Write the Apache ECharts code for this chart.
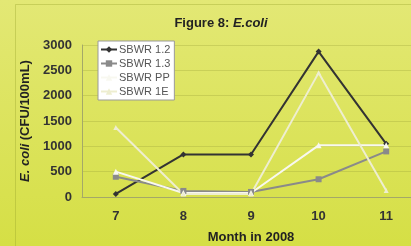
<!DOCTYPE html>
<html>
<head>
<meta charset="utf-8">
<script src="https://cdn.jsdelivr.net/npm/echarts@6/dist/echarts.min.js"></script>
<style>
  html, body { margin: 0; padding: 0; }
  #chart { width: 411px; height: 246px; }
</style>
</head>
<body>
<div id="chart"></div>
<script>
// 数据
var months = ["7", "8", "9", "10", "11"];
var sbwr12 = [60, 840, 840, 2870, 1050];
var sbwr13 = [400, 120, 100, 350, 900];
var sbwrPP = [500, 80, 80, 1020, 1020];
var sbwr1E = [1370, 60, 60, 2450, 130];
var yTicks = [0, 500, 1000, 1500, 2000, 2500, 3000];

var chart = echarts.init(document.getElementById("chart"));

function line(name, data, color, symbol, size) {
  return {
    name: name,
    type: "line",
    data: data,
    symbol: symbol,
    symbolSize: size,
    lineStyle: { color: color, width: 2 },
    itemStyle: { color: color },
    animation: false
  };
}

var option = {
  backgroundColor: {
    type: "linear", x: 0, y: 0, x2: 0, y2: 1,
    colorStops: [
      { offset: 0, color: "#e3e875" },
      { offset: 1, color: "#d5df45" }
    ]
  },
  //外框
  graphic: [{
    type: "rect",
    shape: { x: 15.5, y: 4.5, width: 420, height: 260 },
    style: { fill: "none", stroke: "rgba(150,160,40,0.35)", lineWidth: 1 },
    silent: true
  }],
  title: {
    text: "{b|Figure 8: }{i|E.coli}",
    left: 216,
    top: 12,
    textAlign: "center",
    textStyle: {
      rich: {
        b: { fontFamily: "Liberation Sans", fontWeight: "bold", fontSize: 13, color: "#222" },
        i: { fontFamily: "Liberation Sans", fontWeight: "bold", fontStyle: "italic", fontSize: 13, color: "#222" }
      }
    }
  },
  legend: {
    left: 98,
    top: 41,
    orient: "vertical",
    itemGap: 3,
    itemWidth: 16,
    itemHeight: 8,
    padding: [3, 4, 3, 2],
    backgroundColor: "#ffffff",
    borderColor: "#9a9a9a",
    borderWidth: 1,
    textStyle: { fontFamily: "Liberation Sans", fontSize: 11, color: "#555", padding: [0, 0, 0, -3] },
    data: ["SBWR 1.2", "SBWR 1.3", "SBWR PP", "SBWR 1E"]
  },
  grid: { left: 82, right: -9, top: 45, bottom: 49, outerBoundsMode: "none" },
  xAxis: {
    type: "category",
    data: months,
    boundaryGap: true,
    name: "Month in 2008",
    nameLocation: "middle",
    nameGap: 34,
    nameTextStyle: { fontFamily: "Liberation Sans", fontWeight: "bold", fontSize: 13, color: "#222" },
    axisLine: { lineStyle: { color: "#a4a868", width: 1 } },
    axisTick: { show: false },
    axisLabel: { fontFamily: "Liberation Sans", fontWeight: "bold", fontSize: 13, color: "#333", margin: 13 }
  },
  yAxis: {
    type: "value",
    min: yTicks[0],
    max: yTicks[yTicks.length - 1],
    interval: 500,
    name: "{i|E. coli} {b|(CFU/100mL)}",
    nameLocation: "middle",
    nameGap: 47,
    nameRotate: 90,
    nameTextStyle: {
      rich: {
        b: { fontFamily: "Liberation Sans", fontWeight: "bold", fontSize: 13, color: "#222" },
        i: { fontFamily: "Liberation Sans", fontWeight: "bold", fontStyle: "italic", fontSize: 13, color: "#222" }
      }
    },
    axisLine: { show: true, lineStyle: { color: "#a4a868", width: 1 } },
    axisTick: { show: false },
    splitLine: { lineStyle: { color: "rgba(160,165,60,0.35)", width: 1 } },
    axisLabel: {
      fontFamily: "Liberation Sans", fontWeight: "bold", fontSize: 13, color: "#333", margin: 10,
      formatter: function (v) { return String(v); }
    }
  },
  series: [
    line("SBWR 1.2", sbwr12, "#333333", "diamond", 6),
    line("SBWR 1.3", sbwr13, "#8a8a8a", "rect", 6),
    line("SBWR PP", sbwrPP, "#f8f8f0", "triangle", 6),
    line("SBWR 1E", sbwr1E, "#eeeed0", "triangle", 5)
  ]
};
chart.setOption(option);
</script>
</body>
</html>
